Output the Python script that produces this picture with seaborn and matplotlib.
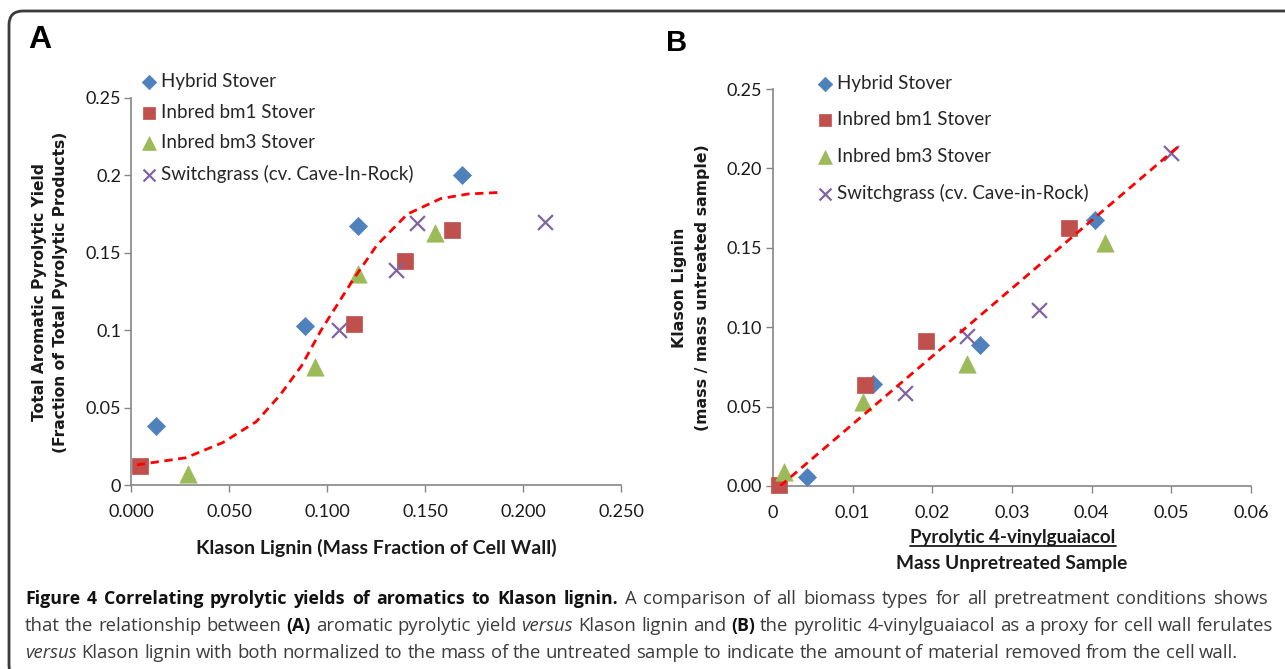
import numpy as np
import pandas as pd
import matplotlib
matplotlib.use('Agg')
import matplotlib.pyplot as plt
import seaborn as sns
from matplotlib.patches import FancyBboxPatch
from matplotlib.lines import Line2D
from matplotlib.transforms import IdentityTransform

W, H, DPI = 1285, 669, 100

# ---------------- data ----------------
names_a = ['Hybrid Stover', 'Inbred bm1 Stover', 'Inbred bm3 Stover',
           'Switchgrass (cv. Cave-In-Rock)']
names_b = ['Hybrid Stover', 'Inbred bm1 Stover', 'Inbred bm3 Stover',
           'Switchgrass (cv. Cave-in-Rock)']

# panel A: Klason lignin vs total aromatic pyrolytic yield
a_hybrid_x = [0.013, 0.089, 0.116, 0.169]
a_hybrid_y = [0.038, 0.103, 0.167, 0.200]
a_bm1_x = [0.0046, 0.114, 0.140, 0.164]
a_bm1_y = [0.012, 0.104, 0.145, 0.165]
a_bm3_x = [0.029, 0.094, 0.116, 0.155]
a_bm3_y = [0.007, 0.076, 0.136, 0.163]
a_switch_x = [0.106, 0.135, 0.146, 0.211]
a_switch_y = [0.100, 0.139, 0.169, 0.170]
# sigmoid trend line
a_fit_x = [0.003, 0.028, 0.047, 0.064, 0.076, 0.087, 0.097, 0.1135, 0.1255, 0.141, 0.158, 0.172, 0.188]
a_fit_y = [0.013, 0.0176, 0.0275, 0.041, 0.058, 0.077, 0.100, 0.133, 0.155, 0.175, 0.185, 0.188, 0.189]

# panel B: pyrolytic 4-vinylguaiacol vs Klason lignin
b_hybrid_x = [0.0043, 0.0126, 0.026, 0.0404]
b_hybrid_y = [0.0057, 0.064, 0.089, 0.1675]
b_bm1_x = [0.0008, 0.0115, 0.0192, 0.0371]
b_bm1_y = [0.0006, 0.0636, 0.0915, 0.1625]
b_bm3_x = [0.0014, 0.0113, 0.0244, 0.0417]
b_bm3_y = [0.009, 0.053, 0.077, 0.153]
b_switch_x = [0.0166, 0.0244, 0.0334, 0.0499]
b_switch_y = [0.0585, 0.0945, 0.111, 0.2097]
b_fit_x = [0.0009, 0.0510]
b_fit_y = [0.0, 0.2143]

a_xticks = [0, 0.05, 0.1, 0.15, 0.2, 0.25]
a_xticklabels = ['0.000', '0.050', '0.100', '0.150', '0.200', '0.250']
a_yticks = [0, 0.05, 0.1, 0.15, 0.2, 0.25]
a_yticklabels = ['0', '0.05', '0.1', '0.15', '0.2', '0.25']
b_xticks = [0, 0.01, 0.02, 0.03, 0.04, 0.05, 0.06]
b_xticklabels = ['0', '0.01', '0.02', '0.03', '0.04', '0.05', '0.06']
b_yticks = [0, 0.05, 0.1, 0.15, 0.2, 0.25]
b_yticklabels = ['0.00', '0.05', '0.10', '0.15', '0.20', '0.25']

colors = ['#4F81BD', '#C0504D', '#9BBB59', '#8064A2']
markers = ['D', 's', '^', 'x']
msizes = [85, 130, 155, 115]

sns.set_theme(style='ticks')
plt.rcParams['font.family'] = ['Lato', 'DejaVu Sans']

fig = plt.figure(figsize=(W / DPI, H / DPI), dpi=DPI)
fig.patch.set_facecolor('white')


def px(x, y):
    """pixel (from top-left) -> figure fraction"""
    return x / W, 1 - y / H


axA = fig.add_axes([131 / W, 1 - 485 / H, (621 - 131) / W, (485 - 98) / H])
axB = fig.add_axes([773 / W, 1 - 486 / H, (1251 - 773) / W, (486 - 89) / H])


def draw_panel(ax, xs, ys, names, fit_x, fit_y):
    for x, y, name, c, m, s in zip(xs, ys, names, colors, markers, msizes):
        df = pd.DataFrame({'x': x, 'y': y})
        lw = 1.6 if m == 'x' else 0.5
        sns.scatterplot(data=df, x='x', y='y', ax=ax, color=c, marker=m, s=s,
                        edgecolor=c, linewidth=lw, label=name, clip_on=False, zorder=3)
    sns.lineplot(x=fit_x, y=fit_y, ax=ax, color='#FF0000', lw=2.0, sort=False,
                 estimator=None, zorder=4, legend=False)
    ax.lines[-1].set_dashes((3, 2))
    ax.set_xlabel('')
    ax.set_ylabel('')
    sns.despine(ax=ax)
    for s in ('left', 'bottom'):
        ax.spines[s].set_color('#868686')
        ax.spines[s].set_linewidth(1.2)
    ax.tick_params(direction='out', length=5, width=1, color='#868686',
                   labelsize=13, labelcolor='#1a1a1a')


draw_panel(axA, [a_hybrid_x, a_bm1_x, a_bm3_x, a_switch_x],
           [a_hybrid_y, a_bm1_y, a_bm3_y, a_switch_y], names_a, a_fit_x, a_fit_y)
draw_panel(axB, [b_hybrid_x, b_bm1_x, b_bm3_x, b_switch_x],
           [b_hybrid_y, b_bm1_y, b_bm3_y, b_switch_y], names_b, b_fit_x, b_fit_y)

axA.set_xlim(0, 0.25)
axA.set_ylim(0, 0.25)
axA.set_xticks(a_xticks, a_xticklabels)
axA.set_yticks(a_yticks, a_yticklabels)
axA.tick_params(axis='x', pad=9)
axA.tick_params(axis='y', pad=2)

axB.set_xlim(0, 0.06)
axB.set_ylim(0, 0.25)
axB.set_xticks(b_xticks, b_xticklabels)
axB.set_yticks(b_yticks, b_yticklabels)
axB.tick_params(axis='x', pad=9)
axB.tick_params(axis='y', pad=3)

# legends
for ax, top, left, spacing in [(axA, 73, 141.5, 0.73), (axB, 75, 817.5, 1.03)]:
    h, l = ax.get_legend_handles_labels()
    ax.legend(h, l, loc='upper left', bbox_to_anchor=px(left, top),
              bbox_transform=fig.transFigure, frameon=False, fontsize=13.5,
              handlelength=0.8, handletextpad=0.24, labelspacing=spacing,
              borderpad=0, borderaxespad=0, markerscale=0.8)

# axis labels
lab = dict(fontweight='bold', color='#1a1a1a')
fig.text(*px(376, 548), 'Klason Lignin (Mass Fraction of Cell Wall)',
         ha='center', va='center', fontsize=14, **lab)
fig.text(*px(50, 292), 'Total Aromatic Pyrolytic Yield\n(Fraction of Total Pyrolytic Products)',
         ha='center', va='center', rotation=90, fontsize=11.2, linespacing=1.5,
         family='DejaVu Sans', **lab)
fig.text(*px(691, 288), 'Klason Lignin\n(mass / mass untreated sample)',
         ha='center', va='center', rotation=90, fontsize=11.3, linespacing=1.65,
         family='DejaVu Sans', **lab)
t_num = fig.text(*px(1013, 538), 'Pyrolytic 4-vinylguaiacol', ha='center', va='center',
                 fontsize=13.5, **lab)
fig.text(*px(1012, 563), 'Mass Unpretreated Sample', ha='center', va='center',
         fontsize=13.8, **lab)

# panel letters
fig.text(*px(40, 40), 'A', ha='center', va='center', fontsize=23, fontweight='bold',
         family='Liberation Sans', color='black')
fig.text(*px(677, 43), 'B', ha='center', va='center', fontsize=21, fontweight='bold',
         family='Liberation Sans', color='black')

# border of the figure panel
box = FancyBboxPatch((9, -10), 1320, H - 11 + 10, boxstyle='round,pad=0,rounding_size=14',
                     transform=IdentityTransform(), fill=False, lw=2, ec='#3a3a3a')
fig.add_artist(box)

fig.canvas.draw()
renderer = fig.canvas.get_renderer()

# underline numerator of the B x label
bb = t_num.get_window_extent(renderer)
fig.add_artist(Line2D([bb.x0, bb.x1], [bb.y0 + 1, bb.y0 + 1], transform=IdentityTransform(),
                      color='#1a1a1a', lw=1.3))

# caption
cap_body = dict(family=['Open Sans', 'DejaVu Sans'], fontsize=13.3, color='#3c3c3c')
cap_bold = dict(family=['Open Sans', 'DejaVu Sans'], fontsize=12.8,
                fontweight='bold', color='#111111')
cap_ital = dict(cap_body, style='italic')

cap_line1 = [('Figure 4 Correlating pyrolytic yields of aromatics to Klason lignin.', 'b'),
             ('A comparison of all biomass types for all pretreatment conditions shows', 'n')]
cap_line2 = [('that the relationship between', 'n'), ('(A)', 'b'), ('aromatic pyrolytic yield', 'n'),
             ('versus', 'i'), ('Klason lignin and', 'n'), ('(B)', 'b'),
             ('the pyrolitic 4-vinylguaiacol as a proxy for cell wall ferulates', 'n')]
cap_line3 = [('versus', 'i'),
             ('Klason lignin with both normalized to the mass of the untreated sample to indicate '
              'the amount of material removed from the cell wall.', 'n')]

styles = {'n': cap_body, 'b': cap_bold, 'i': cap_ital}


def text_width(s, kw):
    t = fig.text(0, 0, s, **kw)
    w = t.get_window_extent(renderer).width
    t.remove()
    return w


space_w = text_width('a a', cap_body) - text_width('aa', cap_body)


def caption_line(runs, base, x0, right=None):
    # word by word, so a justified line can spread its gaps
    words = [(w, st) for s, st in runs for w in s.split(' ')]
    widths = [text_width(w, styles[st]) for w, st in words]
    gap = space_w
    if right is not None:
        gap = (right - x0 - sum(widths)) / (len(words) - 1)
    x = x0
    for (w, st), wd in zip(words, widths):
        fig.text(x / W, 1 - base / H, w, va='baseline', ha='left', **styles[st])
        x += wd + gap


caption_line(cap_line1, 604.5, 25, right=1268)
caption_line(cap_line2, 631, 25, right=1273)
caption_line(cap_line3, 658, 25)

fig.savefig('out.png', dpi=DPI, facecolor='white')
